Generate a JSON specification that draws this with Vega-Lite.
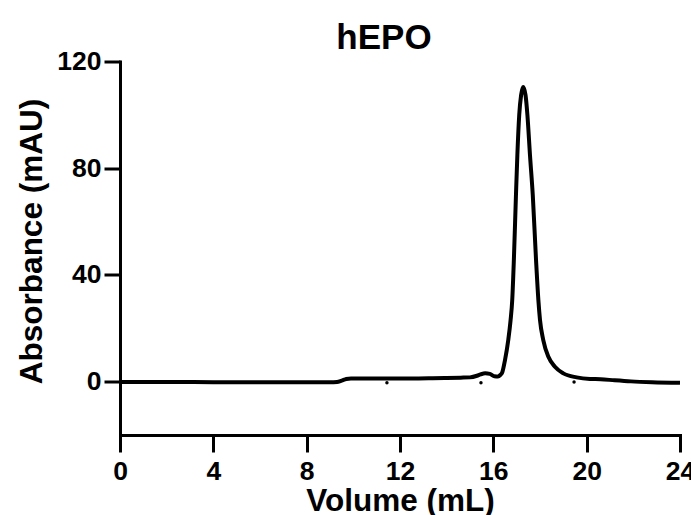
{
  "$schema": "https://vega.github.io/schema/vega-lite/v6.json",
  "width": 560,
  "height": 373.5,
  "autosize": "none",
  "padding": {"left": 120, "top": 61.5, "right": 11, "bottom": 80},
  "background": "white",
  "title": {"text": "hEPO", "font": "Liberation Sans", "fontSize": 35, "fontWeight": "bold", "color": "black", "anchor": "middle", "frame": "group", "baseline": "alphabetic", "offset": -35, "dx": -16},
  "config": {
    "view": {"stroke": null},
    "axis": {
      "grid": false,
      "domainColor": "black",
      "domainWidth": 3,
      "domainCap": "square",
      "tickColor": "black",
      "tickWidth": 3,
      "labelFont": "Liberation Sans",
      "labelFontWeight": "bold",
      "labelColor": "black",
      "labelFontSize": 26.5,
      "titleFont": "Liberation Sans",
      "titleFontWeight": "bold",
      "titleColor": "black",
      "titleFontSize": 31.5,
      "labelOverlap": false,
      "labelFlush": false
    }
  },
  "datasets": {
    "trace": [
      {"volume": 0, "absorbance": -0.1},
      {"volume": 1, "absorbance": -0.1},
      {"volume": 2, "absorbance": -0.1},
      {"volume": 3, "absorbance": -0.15},
      {"volume": 4, "absorbance": -0.2},
      {"volume": 5, "absorbance": -0.2},
      {"volume": 6, "absorbance": -0.2},
      {"volume": 7, "absorbance": -0.2},
      {"volume": 8, "absorbance": -0.2},
      {"volume": 9, "absorbance": -0.2},
      {"volume": 9.3, "absorbance": -0.1},
      {"volume": 9.5, "absorbance": 0.4},
      {"volume": 9.7, "absorbance": 1.0},
      {"volume": 9.9, "absorbance": 1.2},
      {"volume": 10.5, "absorbance": 1.2},
      {"volume": 11.5, "absorbance": 1.2},
      {"volume": 12.5, "absorbance": 1.2},
      {"volume": 13.4, "absorbance": 1.3},
      {"volume": 14.0, "absorbance": 1.4},
      {"volume": 14.6, "absorbance": 1.5},
      {"volume": 15.0, "absorbance": 1.6},
      {"volume": 15.3, "absorbance": 2.2},
      {"volume": 15.45, "absorbance": 2.7},
      {"volume": 15.65, "absorbance": 3.1},
      {"volume": 15.85, "absorbance": 2.9},
      {"volume": 16.05, "absorbance": 2.0},
      {"volume": 16.2, "absorbance": 1.9},
      {"volume": 16.3, "absorbance": 2.5},
      {"volume": 16.38, "absorbance": 3.4},
      {"volume": 16.5, "absorbance": 8.1},
      {"volume": 16.64, "absorbance": 15.6},
      {"volume": 16.74, "absorbance": 23.1},
      {"volume": 16.81, "absorbance": 30.6},
      {"volume": 16.88, "absorbance": 45.6},
      {"volume": 16.97, "absorbance": 70},
      {"volume": 17.03, "absorbance": 85},
      {"volume": 17.11, "absorbance": 100},
      {"volume": 17.19, "absorbance": 107.4},
      {"volume": 17.28, "absorbance": 110.4},
      {"volume": 17.38, "absorbance": 107.4},
      {"volume": 17.46, "absorbance": 100},
      {"volume": 17.57, "absorbance": 85},
      {"volume": 17.69, "absorbance": 70},
      {"volume": 17.83, "absorbance": 45.6},
      {"volume": 17.93, "absorbance": 30.6},
      {"volume": 18.0, "absorbance": 23.1},
      {"volume": 18.14, "absorbance": 15.6},
      {"volume": 18.36, "absorbance": 9.3},
      {"volume": 18.64, "absorbance": 5.6},
      {"volume": 19.0, "absorbance": 3.1},
      {"volume": 19.57, "absorbance": 1.6},
      {"volume": 20.14, "absorbance": 1.0},
      {"volume": 20.6, "absorbance": 0.9},
      {"volume": 21.2, "absorbance": 0.5},
      {"volume": 21.9, "absorbance": 0.1},
      {"volume": 22.8, "absorbance": -0.2},
      {"volume": 24, "absorbance": -0.4}
    ],
    "fractions": [
      {"volume": 11.44, "absorbance": -0.4},
      {"volume": 15.47, "absorbance": -0.4},
      {"volume": 19.46, "absorbance": -0.1}
    ]
  },
  "layer": [
    {
      "data": {"name": "trace"},
      "mark": {"type": "line", "color": "black", "strokeWidth": 4, "interpolate": "monotone", "clip": false},
      "encoding": {
        "x": {
          "field": "volume", "type": "quantitative",
          "scale": {"domain": [0, 24], "nice": false, "zero": false},
          "axis": {"title": "Volume (mL)", "values": [0, 4, 8, 12, 16, 20, 24], "tickSize": 17, "labelPadding": 6, "titlePadding": 1}
        },
        "y": {
          "field": "absorbance", "type": "quantitative",
          "scale": {"domain": [-20, 120], "nice": false, "zero": false},
          "axis": {"title": "Absorbance (mAU)", "values": [0, 40, 80, 120], "tickSize": 16, "labelPadding": 3, "titlePadding": 8, "titleY": 179.5}
        }
      }
    },
    {
      "data": {"name": "fractions"},
      "mark": {"type": "point", "filled": true, "color": "black", "size": 12, "opacity": 1},
      "encoding": {
        "x": {"field": "volume", "type": "quantitative"},
        "y": {"field": "absorbance", "type": "quantitative"}
      }
    }
  ]
}
